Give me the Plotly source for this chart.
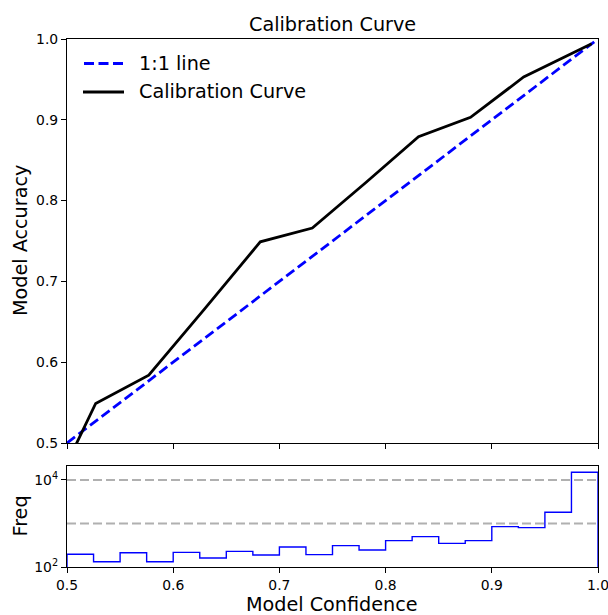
import plotly.graph_objects as go

# ---- data ----
diag_x = [0.5, 1.0]
diag_y = [0.5, 1.0]

conf = [0.5055, 0.527, 0.577, 0.629, 0.682, 0.731, 0.782, 0.831, 0.880, 0.930, 0.994]
acc = [0.490, 0.549, 0.584, 0.665, 0.749, 0.766, 0.823, 0.879, 0.903, 0.953, 0.994]

bin_edges = [0.5, 0.525, 0.55, 0.575, 0.6, 0.625, 0.65, 0.675, 0.7, 0.725, 0.75,
             0.775, 0.8, 0.825, 0.85, 0.875, 0.9, 0.925, 0.95, 0.975, 1.0]
counts = [196, 132, 213, 132, 217, 161, 229, 189, 288, 192, 309, 246, 403, 498,
          349, 403, 845, 801, 1807, 15000]
ref_levels = [1000, 10000]

x_ticks = [0.5, 0.6, 0.7, 0.8, 0.9, 1.0]
x_ticktext = ["0.5", "0.6", "0.7", "0.8", "0.9", "1.0"]
y_ticks = [0.5, 0.6, 0.7, 0.8, 0.9, 1.0]
y_ticktext = ["0.5", "0.6", "0.7", "0.8", "0.9", "1.0"]
freq_ticks = [100, 10000]
freq_ticktext = ["10<sup>2</sup>", "10<sup>4</sup>"]
legend_labels = ["1:1 line", "Calibration Curve"]

FONT = "DejaVu Sans"
TICK = 13.9
LAB = 19.2

OFF = 0  # body margin removed below
W, H = 608 - OFF, 615 - OFF
L, T = 67 - OFF, 39 - OFF
R = W - (598 - OFF)
B = H - (567 - OFF)
PW, PH = W - L - R, H - T - B


def px_x(x):  # window pixel -> paper fraction
    return (x - OFF - L) / PW


def px_y(y):
    return (H - B - (y - OFF)) / PH


DIAG_LINE = dict(color="blue", width=2.8, dash="10px,4.5px")
CAL_LINE = dict(color="black", width=2.8)

fig = go.Figure()

fig.add_trace(go.Scatter(x=diag_x, y=diag_y, mode="lines", name=legend_labels[0],
                         line=DIAG_LINE, xaxis="x", yaxis="y", showlegend=False))
fig.add_trace(go.Scatter(x=conf, y=acc, mode="lines", name=legend_labels[1],
                         line=CAL_LINE, xaxis="x", yaxis="y", showlegend=False))

# histogram as step outline built from bin edges and counts
sx, sy = [bin_edges[0]], [1]
for i, c in enumerate(counts):
    sx += [bin_edges[i], bin_edges[i + 1]]
    sy += [c, c]
sx.append(bin_edges[-1])
sy.append(1)

for lv in ref_levels:
    fig.add_trace(go.Scatter(x=[bin_edges[0], bin_edges[-1]], y=[lv, lv], mode="lines",
                             line=dict(color="#b0b0b0", width=2, dash="9px,4px"),
                             showlegend=False, xaxis="x2", yaxis="y2"))

fig.add_trace(go.Scatter(x=sx, y=sy, mode="lines", line=dict(color="blue", width=1.4),
                         showlegend=False, xaxis="x2", yaxis="y2"))

axis_common = dict(showgrid=False, zeroline=False, showline=True, linecolor="black",
                   linewidth=1.1, mirror=True, ticks="outside", ticklen=5, tickwidth=1.1,
                   tickcolor="black", automargin=False, ticklabeloverflow="allow",
                   tickfont=dict(family=FONT, size=TICK, color="black"))

txt = dict(xref="paper", yref="paper", showarrow=False,
           font=dict(family=FONT, size=LAB, color="black"))
annotations = [
    dict(text="Calibration Curve", x=px_x(332), y=px_y(24),
         xanchor="center", yanchor="middle", **txt),
    dict(text="Model Accuracy", x=px_x(20), y=px_y(241),
         xanchor="center", yanchor="middle", textangle=-90, **txt),
    dict(text="Freq", x=px_x(20), y=px_y(516.5),
         xanchor="center", yanchor="middle", textangle=-90, **txt),
    dict(text="Model Confidence", x=px_x(332), y=px_y(604),
         xanchor="center", yanchor="middle", **txt),
    # legend labels
    dict(text=legend_labels[0], x=px_x(137), y=px_y(63.5),
         xanchor="left", yanchor="middle", **txt),
    dict(text=legend_labels[1], x=px_x(137), y=px_y(92),
         xanchor="left", yanchor="middle", **txt),
]

shapes = [
    dict(type="line", xref="paper", yref="paper", x0=px_x(84), x1=px_x(124),
         y0=px_y(63.5), y1=px_y(63.5), line=DIAG_LINE),
    dict(type="line", xref="paper", yref="paper", x0=px_x(83), x1=px_x(124),
         y0=px_y(92), y1=px_y(92), line=CAL_LINE),
]

fig.update_layout(
    width=W, height=H,
    paper_bgcolor="white", plot_bgcolor="white",
    margin=dict(l=L, r=R, t=T, b=B, autoexpand=False),
    font=dict(family=FONT, color="black"),
    showlegend=False,
    hovermode=False,
    annotations=annotations,
    shapes=shapes,
    xaxis=dict(domain=[0, 1], range=[0.5, 1.0], anchor="y", tickvals=x_ticks,
               showticklabels=False, **axis_common),
    yaxis=dict(domain=[px_y(443), 1], range=[0.5, 1.0], anchor="x", tickvals=y_ticks,
               ticktext=y_ticktext, **axis_common),
    xaxis2=dict(domain=[0, 1], range=[0.5, 1.0], anchor="y2", tickvals=x_ticks,
                ticktext=x_ticktext, **axis_common),
    yaxis2=dict(domain=[0, px_y(466)], type="log", range=[2, 4.32], anchor="x2",
                tickvals=freq_ticks, ticktext=freq_ticktext, **axis_common),
)

fig.write_html("out.html", config={"displayModeBar": False},
               post_script="document.body.style.margin='0';document.body.style.overflow='hidden';")
